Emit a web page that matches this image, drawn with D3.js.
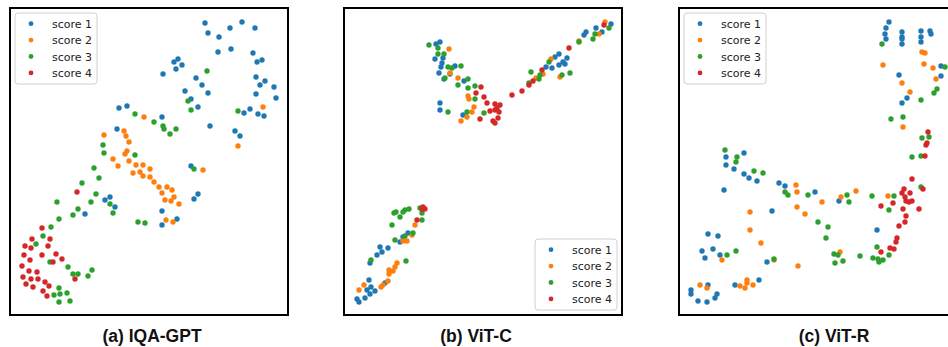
<!DOCTYPE html>
<html>
<head>
<meta charset="utf-8">
<script src="https://cdn.jsdelivr.net/npm/d3@7"></script>
<style>
  body { margin: 0; background: #fff; }
  svg { display: block; }
</style>
</head>
<body>
<svg id="chart" width="948" height="347"></svg>
<script>
// t-SNE embeddings (x right, y up, arbitrary units)
const scoreNames = ["score 1", "score 2", "score 3", "score 4"]
const scoreColors = ["#1f77b4", "#ff7f0e", "#2ca02c", "#d62728"]
const panelTitles = ["(a) IQA-GPT", "(b) ViT-C", "(c) ViT-R"]

const gptScore1 = [[195,292],[232,293],[220,287],[245,287],[198,282],[209,278],[208,263],[221,266],[243,262],[252,255],[247,253],[164,253],[168,256],[172,250],[166,246],[153,241],[186,237],[246,238],[255,234],[250,230],[264,228],[192,230],[175,224],[198,222],[246,221],[266,217],[181,216],[188,208],[234,202],[240,206],[248,201],[254,199],[109,207],[117,209],[152,198],[107,186],[200,189],[225,184],[230,179],[181,149],[188,121],[184,116],[95,115],[100,118],[105,108],[75,101],[152,104],[167,96],[152,90]]
const gptScore2 = [[253,208],[134,198],[114,184],[116,179],[94,180],[119,173],[228,169],[117,164],[115,161],[103,156],[119,154],[108,149],[126,150],[133,150],[140,146],[123,142],[130,143],[133,139],[140,138],[144,133],[149,128],[157,128],[162,125],[152,122],[164,118],[155,115],[161,114],[169,111],[156,95],[163,93],[193,145]]
const gptScore3 = [[197,244],[178,214],[181,205],[228,204],[125,201],[144,193],[153,189],[154,186],[166,186],[160,181],[93,170],[94,162],[125,160],[184,146],[84,147],[89,137],[72,132],[86,121],[81,113],[47,113],[100,111],[68,106],[63,100],[103,102],[49,96],[128,93],[135,92],[41,88],[33,79],[26,71],[40,53],[58,48],[63,41],[68,41],[82,45],[78,39],[49,27],[50,21],[44,20],[57,22],[49,13],[60,14]]
const gptScore4 = [[67,123],[32,87],[22,76],[40,76],[15,69],[21,67],[38,69],[46,61],[14,60],[32,60],[52,56],[20,55],[43,53],[12,49],[19,44],[27,43],[13,38],[21,36],[28,36],[35,33],[65,36],[16,31],[39,29],[23,28],[33,24],[37,19]]

const vitcScore1 = [[96,273],[92,271],[99,257],[91,256],[98,252],[97,248],[111,249],[106,241],[95,242],[100,236],[120,234],[96,212],[96,205],[119,200],[267,291],[252,287],[258,283],[242,283],[240,280],[215,261],[211,258],[223,257],[219,253],[215,250],[208,247],[202,248],[221,251],[64,82],[59,78],[56,73],[36,68],[44,67],[38,63],[33,60],[26,52],[25,35],[41,32],[27,28],[23,25],[26,21],[31,24],[21,17],[13,16],[15,13]]
const vitcScore2 = [[105,266],[106,242],[114,237],[124,219],[125,216],[130,208],[128,203],[123,198],[117,194],[261,293],[255,281],[235,274],[207,256],[192,237],[199,241],[216,238],[71,90],[68,80],[63,74],[59,74],[53,52],[51,48],[49,44],[45,45],[45,41],[44,34],[39,30],[37,28],[20,30],[15,25]]
const vitcScore3 = [[85,270],[94,267],[94,261],[100,261],[104,248],[108,247],[117,249],[101,237],[124,236],[114,230],[124,227],[131,229],[131,216],[104,203],[123,203],[140,202],[265,287],[251,281],[249,276],[235,273],[205,253],[187,243],[196,240],[195,236],[218,240],[226,242],[185,232],[76,107],[65,106],[61,105],[52,103],[50,102],[59,103],[56,98],[78,102],[78,95],[48,90],[69,82],[51,75],[61,79],[27,55],[62,54]]
const vitcScore4 = [[260,290],[225,267],[198,245],[189,234],[185,230],[178,224],[168,220],[137,228],[132,222],[140,218],[143,212],[151,211],[156,210],[153,207],[146,204],[151,205],[155,203],[154,197],[149,194],[151,192],[136,196],[79,108],[78,106],[81,106],[73,95]]

const vitrScore1 = [[210,293],[207,287],[206,281],[207,276],[223,283],[223,278],[223,276],[223,271],[242,284],[251,284],[252,281],[242,278],[242,273],[262,249],[262,239],[220,240],[228,217],[223,212],[65,162],[47,158],[47,150],[55,146],[65,141],[70,137],[78,134],[100,132],[106,129],[45,125],[136,123],[160,114],[93,104],[198,85],[29,81],[39,79],[34,66],[23,64],[41,60],[26,57],[88,53],[80,35],[56,30],[29,30],[12,25],[12,21],[38,21],[36,17],[19,14],[28,13]]
const vitrScore2 = [[243,263],[246,262],[204,250],[245,251],[254,247],[257,236],[223,232],[231,223],[224,188],[117,130],[118,123],[162,118],[177,124],[209,119],[143,113],[118,108],[126,101],[71,103],[71,85],[82,72],[161,63],[43,55],[95,55],[119,49],[21,30],[28,27],[68,35],[68,32],[61,29],[66,27],[74,30]]
const vitrScore3 = [[203,271],[266,248],[258,226],[255,222],[242,215],[212,196],[224,198],[250,178],[243,177],[242,159],[233,158],[46,165],[58,158],[57,153],[75,144],[84,142],[106,123],[109,120],[129,120],[168,120],[170,113],[193,119],[215,119],[210,105],[242,128],[139,93],[149,88],[147,77],[48,60],[57,64],[95,56],[155,61],[159,60],[164,54],[156,52],[181,59],[194,57],[198,68],[199,56],[200,53],[204,55],[210,60]]
const vitrScore4 = [[249,183],[248,172],[247,170],[246,159],[233,136],[225,126],[231,122],[223,122],[244,126],[226,118],[227,114],[230,113],[233,114],[214,112],[202,109],[224,106],[240,106],[227,99],[226,93],[220,89],[218,77],[217,73],[211,67],[215,66],[202,63]]

const panels = [
  { left: 10, titleX: 152, legend: "topleft", series: [gptScore1, gptScore2, gptScore3, gptScore4] },
  { left: 344, titleX: 476, legend: "bottomright", series: [vitcScore1, vitcScore2, vitcScore3, vitcScore4] },
  { left: 679, titleX: 834, legend: "topleft", series: [vitrScore1, vitrScore2, vitrScore3, vitrScore4] }
]

const plotTop = 8
const plotW = 278
const plotH = 307

const svg = d3.select("#chart")
svg.append("rect").attr("width", 948).attr("height", 347).attr("fill", "#fff")

panels.forEach((p, pi) => {
  const x = d3.scaleLinear().domain([0, plotW]).range([p.left, p.left + plotW])
  const y = d3.scaleLinear().domain([0, plotH]).range([plotTop + plotH, plotTop])

  const g = svg.append("g")

  // points, score 1 first so score 4 ends on top
  p.series.forEach((pts, si) => {
    g.selectAll(null)
      .data(pts)
      .enter()
      .append("circle")
      .attr("cx", d => x(d[0]))
      .attr("cy", d => y(d[1]))
      .attr("r", 2.7)
      .attr("fill", scoreColors[si])
  })

  // axes frame
  g.append("rect")
    .attr("x", p.left)
    .attr("y", plotTop)
    .attr("width", plotW)
    .attr("height", plotH)
    .attr("fill", "none")
    .attr("stroke", "#000")
    .attr("stroke-width", 2)

  // legend
  const lw = 82, lh = 71
  const lx = p.legend == "topleft" ? p.left + 5 : p.left + plotW - 5 - lw
  const ly = p.legend == "topleft" ? plotTop + 5 : plotTop + plotH - 5 - lh
  const leg = g.append("g").attr("transform", "translate(" + lx + "," + ly + ")")
  leg.append("rect")
    .attr("width", lw)
    .attr("height", lh)
    .attr("rx", 3)
    .attr("fill", "#fff")
    .attr("fill-opacity", 0.8)
    .attr("stroke", "#d0d0d0")
    .attr("stroke-width", 1)
  scoreNames.forEach((name, i) => {
    const ry = 10.7 + i * 16.4
    leg.append("circle")
      .attr("cx", 16)
      .attr("cy", ry)
      .attr("r", 2.4)
      .attr("fill", scoreColors[i])
    leg.append("text")
      .attr("x", 37)
      .attr("y", ry + 4)
      .style("font-family", "DejaVu Sans")
      .style("font-size", "11px")
      .attr("fill", "#222")
      .text(name)
  })

  // caption below each panel
  svg.append("text")
    .attr("x", p.titleX)
    .attr("y", 342)
    .attr("text-anchor", "middle")
    .style("font-family", "Liberation Sans, Arial, sans-serif")
    .style("font-weight", "bold")
    .style("font-size", "17.5px")
    .attr("fill", "#111")
    .text(panelTitles[pi])
})
</script>
</body>
</html>
